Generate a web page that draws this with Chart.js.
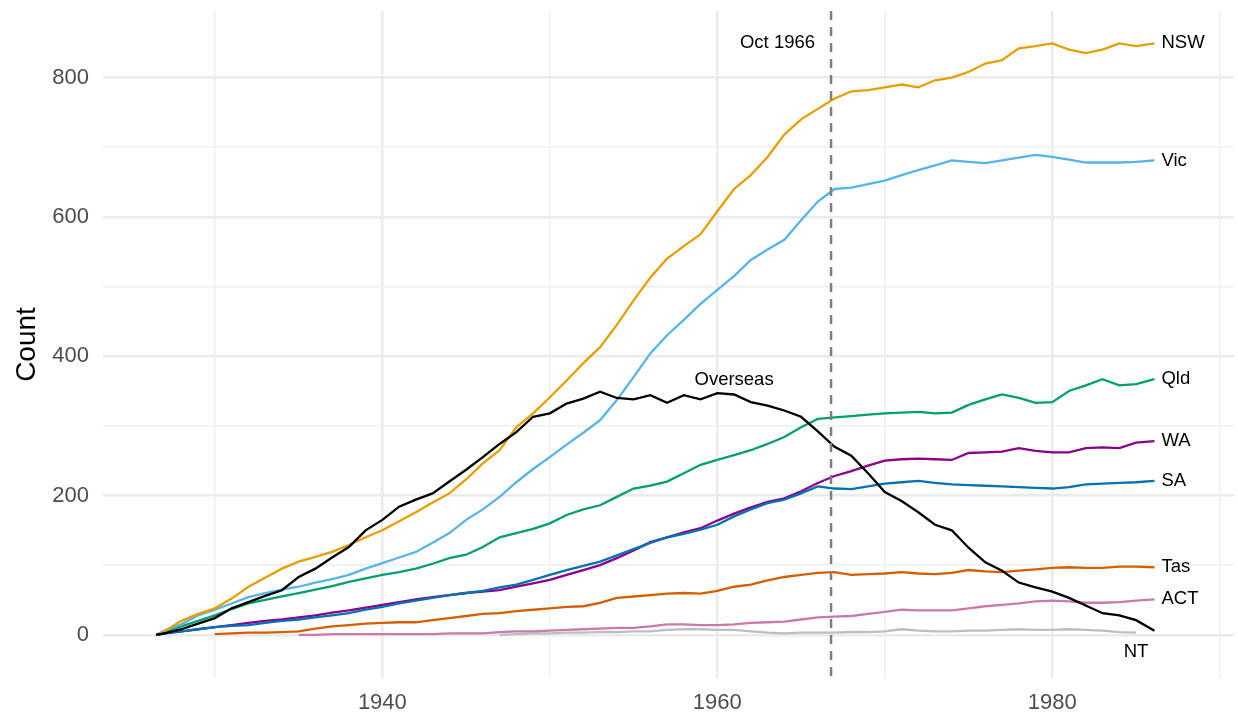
<!DOCTYPE html>
<html>
<head>
<meta charset="utf-8">
<script src="https://cdn.jsdelivr.net/npm/chart.js@4.4.1/dist/chart.umd.min.js"></script>
<style>
body{margin:0;background:#fff;}
canvas{display:block;}
</style>
</head>
<body>
<canvas id="chart" width="1238" height="719"></canvas>
<script>
// x positions (years); first point 1926.5, last point ~1986.1
const years=[1926.5,
 1927,1928,1929,1930,1931,1932,1933,1934,1935,1936,
 1937,1938,1939,1940,1941,1942,1943,1944,1945,1946,
 1947,1948,1949,1950,1951,1952,1953,1954,1955,1956,
 1957,1958,1959,1960,1961,1962,1963,1964,1965,1966,
 1967,1968,1969,1970,1971,1972,1973,1974,1975,1976,
 1977,1978,1979,1980,1981,1982,1983,1984,1985,
 1986.1];

const nsw=[0,
 5,20,30,38,52,69,82,95,105,112,
 119,129,140,150,163,176,190,203,223,246,
 265,298,318,341,365,390,413,445,480,513,
 540,558,575,608,640,660,686,718,740,755,
 770,780,782,786,790,786,796,800,808,820,
 825,842,845,849,840,835,840,849,845,
 849];
const vic=[0,
 6,15,28,36,45,54,60,65,69,75,
 80,86,95,103,111,119,132,146,165,180,
 198,219,238,255,273,290,308,337,370,404,
 430,452,475,495,515,538,553,567,595,622,
 640,642,647,652,660,667,674,681,679,677,
 681,685,689,686,682,678,678,678,679,
 681];
const qld=[0,
 4,12,20,28,37,45,50,55,60,65,
 70,76,81,86,90,95,102,110,115,126,
 140,146,152,160,172,180,186,198,210,214,
 220,232,244,251,258,265,274,284,298,310,
 312,314,316,318,319,320,318,319,330,338,
 345,340,333,334,350,358,367,358,360,
 367];
const wa=[0,
 2,5,8,11,14,17,20,22,25,28,
 32,35,39,43,47,51,54,57,60,62,
 64,69,74,79,86,93,100,110,121,133,
 140,147,153,164,174,183,191,196,206,218,
 228,235,243,250,252,253,252,251,261,262,
 263,268,264,262,262,268,269,268,276,
 278];
const sa=[0,
 2,5,8,11,13,14,17,20,22,25,
 28,31,36,40,45,49,53,57,60,63,
 68,72,79,86,93,99,105,114,123,132,
 140,145,151,158,170,180,189,194,203,213,
 210,209,213,217,219,221,218,216,215,214,
 213,212,211,210,212,216,217,218,219,
 221];
const tas=[null,
 null,null,null,1,2,3,3,4,5,9,
 12,14,16,17,18,18,21,24,27,30,
 31,34,36,38,40,41,46,53,55,57,
 59,60,59,63,69,72,78,83,86,89,
 90,86,87,88,90,88,87,89,93,91,
 90,92,94,96,97,96,96,98,98,
 97];
const act=[null,
 null,null,null,null,null,null,null,null,0,0,
 1,1,1,1,1,1,1,2,2,2,
 4,5,5,6,7,8,9,10,10,12,
 15,15,14,14,15,17,18,19,22,25,
 26,27,30,33,36,35,35,35,38,41,
 43,45,48,49,48,46,46,47,49,
 51];
const nt=[null,
 null,null,null,null,null,null,null,null,null,null,
 null,null,null,null,null,null,null,null,null,null,
 0,1,2,2,3,3,4,4,5,5,
 7,8,8,7,7,5,3,2,3,3,
 3,4,4,5,8,6,5,5,6,6,
 7,8,7,7,8,7,6,4,3,
 null];
const overseas=[0,
 2,8,16,24,38,47,56,64,83,95,
 111,126,150,165,184,194,203,220,237,255,
 274,291,313,318,332,339,349,340,338,344,
 333,344,338,347,345,334,329,322,313,292,
 270,257,232,205,192,176,158,150,125,104,
 92,75,68,62,53,42,31,28,21,
 6];

const xTicks=[1930,1940,1950,1960,1970,1980,1990];
const xLabels=[1940,1960,1980];
const yTicks=[0,100,200,300,400,500,600,700,800];
const yLabels=[0,200,400,600,800];

const eventYear=1966.79;
const eventText='Oct 1966';
const overseasLabel={x:1961,y:366};

const FONT="'Liberation Sans', Arial, sans-serif";

function pts(arr){
    const out=[];
    arr.forEach((v,i)=>{ if(v!==null) out.push({x:years[i],y:v}); });
    return out;
}

const series=[
    {label:'Overseas',data:overseas,color:'#000000'},
    {label:'SA',data:sa,color:'#0072B2'},
    {label:'WA',data:wa,color:'#8B008B'},
    {label:'NSW',data:nsw,color:'#E69F00'},
    {label:'Vic',data:vic,color:'#56B4E9'},
    {label:'Qld',data:qld,color:'#009E73'},
    {label:'Tas',data:tas,color:'#D55E00'},
    {label:'ACT',data:act,color:'#CC79A7'},
    {label:'NT',data:nt,color:'#BEBEBE'}
];

const datasets=series.map(s=>({
    label:s.label,
    data:pts(s.data),
    borderColor:s.color,
    borderWidth:2.3,
    pointRadius:0,
    tension:0,
    fill:false
}));

// dashed event line + text labels
const annotate={
    id:'annotate',
    afterDatasetsDraw(chart){
        const {ctx,chartArea,scales:{x,y}}=chart;
        ctx.save();
        // event line
        const ex=x.getPixelForValue(eventYear);
        ctx.strokeStyle='#7F7F7F';
        ctx.lineWidth=2.5;
        ctx.setLineDash([9,7]);
        ctx.beginPath();
        ctx.moveTo(ex,chartArea.top);
        ctx.lineTo(ex,chartArea.bottom);
        ctx.stroke();
        ctx.setLineDash([]);

        ctx.fillStyle='#000';
        ctx.font='18.5px '+FONT;
        ctx.textBaseline='middle';
        ctx.textAlign='right';
        ctx.fillText(eventText,ex-16,y.getPixelForValue(850));

        chart.data.datasets.forEach(ds=>{
            const last=ds.data[ds.data.length-1];
            const px=x.getPixelForValue(last.x);
            const py=y.getPixelForValue(last.y);
            if(ds.label==='Overseas'){
                ctx.textAlign='center';
                ctx.fillText(ds.label,x.getPixelForValue(overseasLabel.x),y.getPixelForValue(overseasLabel.y));
            }else if(ds.label==='NT'){
                ctx.textAlign='center';
                ctx.fillText(ds.label,px,py+19);
            }else{
                ctx.textAlign='left';
                ctx.fillText(ds.label,px+7,py);
            }
        });
        ctx.restore();
    }
};

new Chart(document.getElementById('chart'),{
    type:'line',
    data:{datasets},
    options:{
        responsive:false,
        devicePixelRatio:1,
        animation:false,
        layout:{padding:{top:11,right:4,bottom:0,left:0}},
        plugins:{legend:{display:false},tooltip:{enabled:false}},
        scales:{
            x:{
                type:'linear',
                min:1923.32,
                max:1990.85,
                afterBuildTicks:(s)=>{s.ticks=xTicks.map(v=>({value:v}));},
                afterFit:(s)=>{s.height=41;s.paddingLeft=0;s.paddingRight=0;},
                border:{display:false},
                grid:{
                    drawTicks:false,
                    color:(c)=>xLabels.includes(c.tick.value)?'#EBEBEB':'#F0F0F0',
                    lineWidth:(c)=>xLabels.includes(c.tick.value)?2.5:1.5
                },
                ticks:{
                    autoSkip:false,
                    maxRotation:0,
                    padding:12,
                    color:'#4D4D4D',
                    font:{family:FONT,size:22},
                    callback:(v)=>xLabels.includes(v)?String(v):''
                }
            },
            y:{
                type:'linear',
                min:-62,
                max:895.5,
                afterBuildTicks:(s)=>{s.ticks=yTicks.map(v=>({value:v}));},
                afterFit:(s)=>{s.width=103;s.paddingTop=0;s.paddingBottom=0;},
                border:{display:false},
                grid:{
                    drawTicks:false,
                    color:(c)=>yLabels.includes(c.tick.value)?'#EBEBEB':'#F0F0F0',
                    lineWidth:(c)=>yLabels.includes(c.tick.value)?2.5:1.5
                },
                ticks:{
                    padding:14,
                    color:'#4D4D4D',
                    font:{family:FONT,size:22},
                    callback:(v)=>yLabels.includes(v)?String(v):''
                },
                title:{
                    display:true,
                    text:'Count',
                    color:'#000',
                    font:{family:FONT,size:28},
                    padding:{top:10,bottom:0}
                }
            }
        }
    },
    plugins:[annotate]
});
</script>
</body>
</html>
